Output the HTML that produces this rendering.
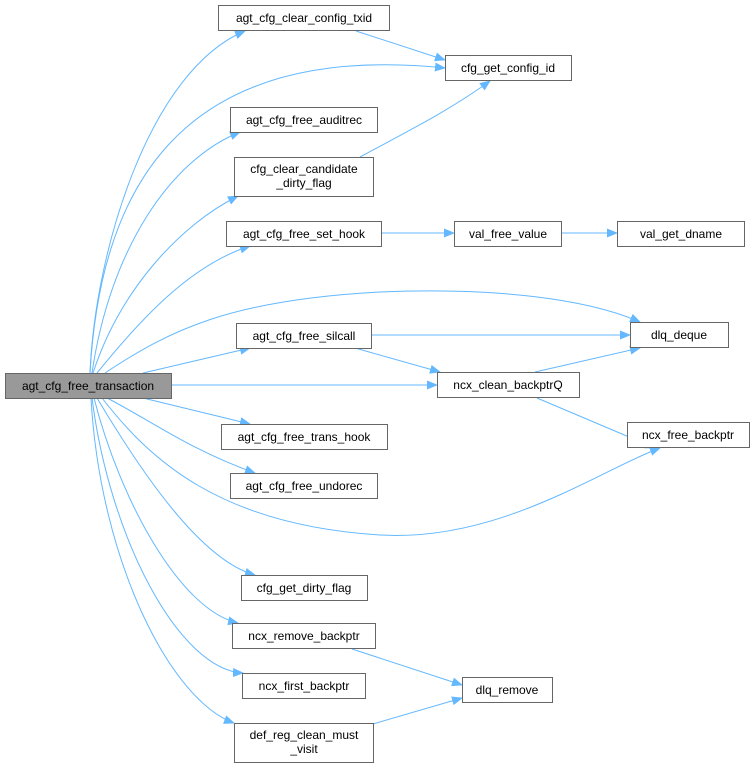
<!DOCTYPE html>
<html><head><style>
body{margin:0;background:#fff}
svg text{font-family:"Liberation Sans",Arial,sans-serif;font-size:12px;fill:#000}
</style></head><body>
<svg width="755" height="769" viewBox="0 0 755 769" xmlns="http://www.w3.org/2000/svg">
<defs><marker id="a" markerWidth="11" markerHeight="9" refX="10" refY="4.5" orient="auto" markerUnits="userSpaceOnUse"><path d="M0,0 L11,4.5 L0,9 z" fill="#63b8ff"/></marker></defs>
<g fill="none" stroke="#63b8ff" stroke-width="1" marker-end="url(#a)">
<path d="M90,373 C95,250 150,70 245,31"/>
<path d="M90,373 C100,200 170,40 445,68"/>
<path d="M92,373 C110,250 170,160 240,132"/>
<path d="M93,373 C120,290 180,225 238,196"/>
<path d="M97,373 C140,320 190,265 250,246"/>
<path d="M105,373 C170,330 230,300 380,292 C500,287 590,300 640,322"/>
<path d="M143,373 L250,348"/>
<path d="M171,385 L437,385"/>
<path d="M143,398 L250,424"/>
<path d="M107,398 C150,420 190,450 255,473"/>
<path d="M102,398 C150,460 220,525 380,535 C500,542 600,470 660,448"/>
<path d="M97,398 C140,470 200,560 255,575"/>
<path d="M94,398 C120,500 180,610 238,623"/>
<path d="M92,398 C110,540 180,670 243,673"/>
<path d="M91,398 C100,560 170,700 234,723"/>
<path d="M356,31 L445,60"/>
<path d="M360,157 C410,130 450,110 490,81"/>
<path d="M381,233 L454,233"/>
<path d="M561,233 L617,233"/>
<path d="M371,335 L630,335"/>
<path d="M355,348 L440,372"/>
<path d="M535,372 L640,348"/>
<path d="M537,398 L655,448"/>
<path d="M352,649 L462,685"/>
<path d="M373,724 L462,698"/>
</g>
<g stroke="#666" stroke-width="1" fill="#fff">
<rect x="5.5" y="373.5" width="166" height="25" fill="#999"/>
<rect x="218.5" y="5.5" width="171" height="25"/>
<rect x="230.5" y="107.5" width="147" height="25"/>
<rect x="234.5" y="157.5" width="139" height="39"/>
<rect x="226.5" y="221.5" width="155" height="25"/>
<rect x="236.5" y="323.5" width="135" height="25"/>
<rect x="221.5" y="424.5" width="166" height="25"/>
<rect x="230.5" y="473.5" width="147" height="25"/>
<rect x="241.5" y="575.5" width="126" height="25"/>
<rect x="232.5" y="623.5" width="143" height="25"/>
<rect x="242.5" y="673.5" width="123" height="25"/>
<rect x="234.5" y="723.5" width="139" height="39"/>
<rect x="445.5" y="55.5" width="126" height="25"/>
<rect x="454.5" y="221.5" width="107" height="25"/>
<rect x="617.5" y="221.5" width="127" height="25"/>
<rect x="630.5" y="322.5" width="98" height="25"/>
<rect x="437.5" y="372.5" width="142" height="25"/>
<rect x="627.5" y="422.5" width="122" height="25"/>
<rect x="462.5" y="677.5" width="90" height="25"/>
</g>
<g text-anchor="middle">
<text x="88" y="390">agt_cfg_free_transaction</text>
<text x="304" y="22">agt_cfg_clear_config_txid</text>
<text x="304" y="124">agt_cfg_free_auditrec</text>
<text x="304" y="173">cfg_clear_candidate</text>
<text x="304" y="187">_dirty_flag</text>
<text x="304" y="238">agt_cfg_free_set_hook</text>
<text x="304" y="340">agt_cfg_free_silcall</text>
<text x="304" y="441">agt_cfg_free_trans_hook</text>
<text x="304" y="490">agt_cfg_free_undorec</text>
<text x="304" y="592">cfg_get_dirty_flag</text>
<text x="304" y="640">ncx_remove_backptr</text>
<text x="304" y="690">ncx_first_backptr</text>
<text x="304" y="739">def_reg_clean_must</text>
<text x="304" y="753">_visit</text>
<text x="508" y="72">cfg_get_config_id</text>
<text x="508" y="238">val_free_value</text>
<text x="681" y="238">val_get_dname</text>
<text x="679" y="339">dlq_deque</text>
<text x="508" y="389">ncx_clean_backptrQ</text>
<text x="688" y="439">ncx_free_backptr</text>
<text x="507" y="694">dlq_remove</text>
</g>
</svg>
</body></html>
